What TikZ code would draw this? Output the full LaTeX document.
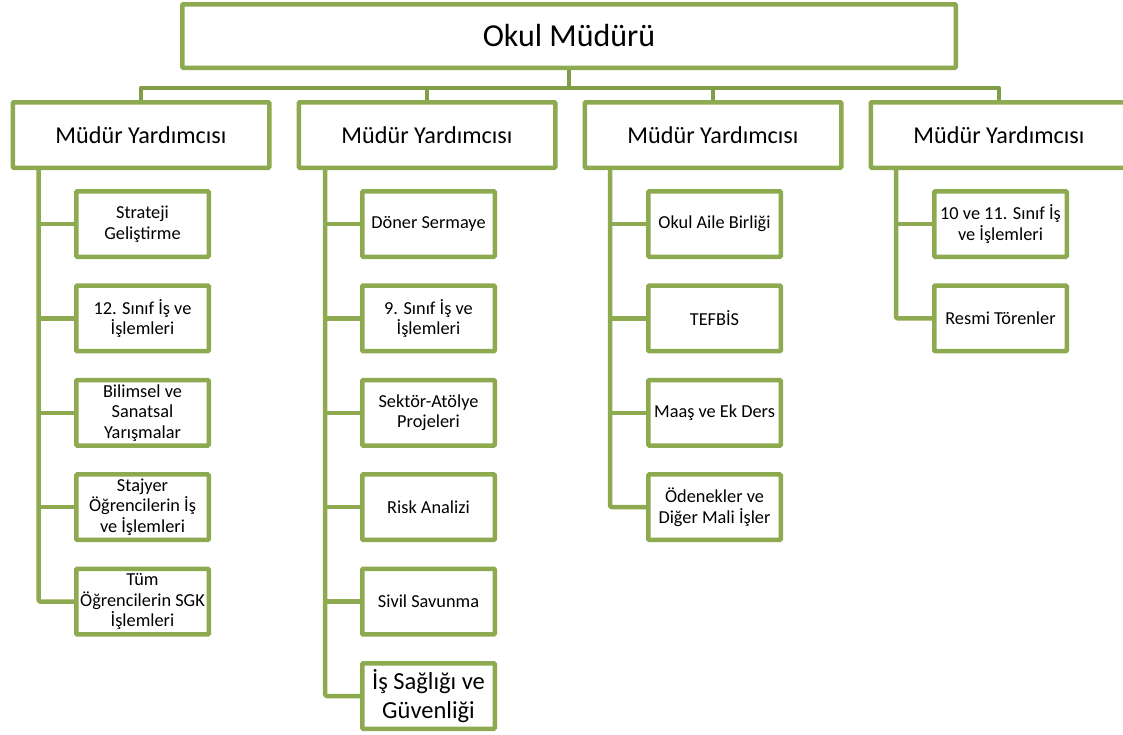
\documentclass[tikz,border=0pt]{standalone}
\usepackage{fontspec}
\setmainfont{Carlito}
\definecolor{boxgreen}{HTML}{8DAA50}
\definecolor{linkgreen}{HTML}{809D48}
\tikzset{
  chart/.style={x=1pt,y=-1pt},
  topbox/.style={draw=boxgreen,line width=4.5pt,fill=white,rounded corners=1pt,
    minimum width=773.5pt,minimum height=63.5pt,inner sep=0pt,
    font=\fontsize{32}{38}\selectfont},
  vicebox/.style={draw=boxgreen,line width=4.5pt,fill=white,rounded corners=1pt,
    minimum width=256.5pt,minimum height=65.5pt,inner sep=0pt,
    font=\fontsize{24.2}{29}\selectfont},
  unitbox/.style={draw=boxgreen,line width=4.5pt,fill=white,rounded corners=1pt,
    minimum width=132.5pt,minimum height=65.5pt,inner sep=0pt,align=center,
    font=\fontsize{18.3}{20.6}\selectfont},
  bigunit/.style={unitbox,font=\fontsize{24.5}{28.5}\selectfont},
  toplink/.style={draw=linkgreen,line width=4.5pt,line join=round},
  unitlink/.style={draw=boxgreen,line width=4.5pt,line join=round,rounded corners=1.5pt},
}
\begin{document}
\begin{tikzpicture}[chart]
\useasboundingbox (0,0) rectangle (1123,734);
\fill[white] (0,0) rectangle (1123,734);

\coordinate (bar) at (570,88);
\node[topbox] (head) at (569,36) {Okul Müdürü};
\node[vicebox] (my1) at (141,135) {Müdür Yardımcısı};
\node[vicebox] (my2) at (427,135) {Müdür Yardımcısı};
\node[vicebox] (my3) at (713,135) {Müdür Yardımcısı};
\node[vicebox] (my4) at (999,135) {Müdür Yardımcısı};

% column 1
\node[unitbox] (a1) at (142.5,224) {Strateji\\Geliştirme};
\node[unitbox] (a2) at (142.5,318.4) {12. Sınıf İş ve\\İşlemleri};
\node[unitbox] (a3) at (142.5,412.8) {Bilimsel ve\\Sanatsal\\Yarışmalar};
\node[unitbox] (a4) at (142.5,507.2) {Stajyer\\Öğrencilerin İş\\ve İşlemleri};
\node[unitbox] (a5) at (142.5,601.6) {Tüm\\Öğrencilerin SGK\\İşlemleri};

% column 2
\node[unitbox] (b1) at (428.5,224) {Döner Sermaye};
\node[unitbox] (b2) at (428.5,318.4) {9. Sınıf İş ve\\İşlemleri};
\node[unitbox] (b3) at (428.5,412.8) {Sektör-Atölye\\Projeleri};
\node[unitbox] (b4) at (428.5,507.2) {Risk Analizi};
\node[unitbox] (b5) at (428.5,601.6) {Sivil Savunma};
\node[bigunit] (b6) at (428.5,696) {İş Sağlığı ve\\Güvenliği};

% column 3
\node[unitbox] (c1) at (714.5,224) {Okul Aile Birliği};
\node[unitbox] (c2) at (714.5,318.4) {TEFBİS};
\node[unitbox] (c3) at (714.5,412.8) {Maaş ve Ek Ders};
\node[unitbox] (c4) at (714.5,507.2) {Ödenekler ve\\Diğer Mali İşler};

% column 4
\node[unitbox] (d1) at (1000.5,224) {10 ve 11. Sınıf İş\\ve İşlemleri};
\node[unitbox] (d2) at (1000.5,318.4) {Resmi Törenler};

% spine coordinates
\coordinate (s1) at (38.5,170);
\coordinate (s2) at (325,170);
\coordinate (s3) at (610,170);
\coordinate (s4) at (896,170);

% head links
\draw[toplink] (head.south) -- (head.south |- bar);
\draw[toplink] (my1.north) -- (my1.north |- bar) -- (my4.north |- bar) -- (my4.north);
\draw[toplink] (my2.north) -- (my2.north |- bar);
\draw[toplink] (my3.north) -- (my3.north |- bar);

% column links
\draw[unitlink] (s1 |- my1.south) |- (a5.west);
\foreach \n in {a1,a2,a3,a4} \draw[unitlink] (s1 |- \n.west) -- (\n.west);
\draw[unitlink] (s2 |- my2.south) |- (b6.west);
\foreach \n in {b1,b2,b3,b4,b5} \draw[unitlink] (s2 |- \n.west) -- (\n.west);
\draw[unitlink] (s3 |- my3.south) |- (c4.west);
\foreach \n in {c1,c2,c3} \draw[unitlink] (s3 |- \n.west) -- (\n.west);
\draw[unitlink] (s4 |- my4.south) |- (d2.west);
\draw[unitlink] (s4 |- d1.west) -- (d1.west);
\end{tikzpicture}
\end{document}
